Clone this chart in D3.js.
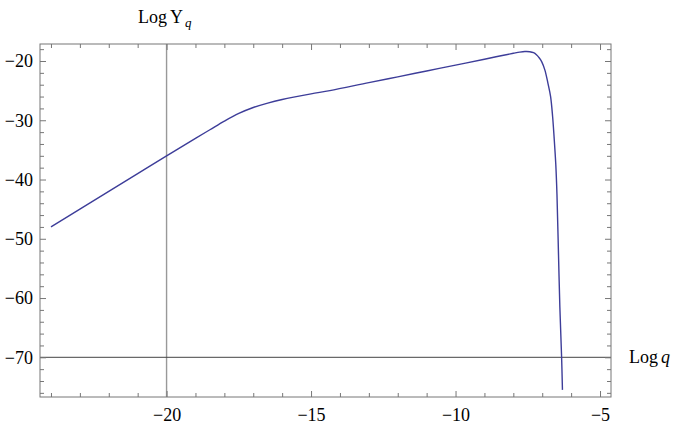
<!DOCTYPE html>
<html>
<head>
<meta charset="utf-8">
<script src="https://cdn.jsdelivr.net/npm/d3@7"></script>
<style>
  html, body { margin: 0; padding: 0; background: #fff; }
  svg { display: block; }
  text { font-family: "Liberation Serif", "DejaVu Serif", serif; }
</style>
</head>
<body>
<svg id="chart" width="674" height="427"></svg>
<script>
(function () {
// ---- data ----
const logQ = [-24.0, -23.0, -22.0, -21.0, -20.0, -19.0, -18.5, -18.0, -17.5, -17.0, -16.5, -16.0, -15.0, -14.35, -13.0, -12.0, -11.0, -10.0, -9.0, -8.47, -8.0, -7.78, -7.6, -7.43, -7.3, -7.2, -7.1, -7.02, -6.91, -6.8, -6.71, -6.64, -6.59, -6.53, -6.49, -6.45, -6.39, -6.33, -6.3];
const logY = [-48.0, -45.0, -42.0, -39.0, -36.0, -33.05, -31.6, -30.15, -28.85, -27.85, -27.1, -26.5, -25.55, -25.0, -23.65, -22.67, -21.68, -20.7, -19.7, -19.15, -18.7, -18.5, -18.4, -18.43, -18.6, -18.95, -19.5, -20.1, -21.5, -23.8, -26.0, -29.4, -32.8, -37.5, -42.5, -50.0, -61.5, -69.9, -75.5];
const xMajorTicks = [-20, -15, -10, -5];
const xTickLabels = ["\u221220", "\u221215", "\u221210", "\u22125"];
const yMajorTicks = [-70, -60, -50, -40, -30, -20];
const yTickLabels = ["\u221270", "\u221260", "\u221250", "\u221240", "\u221230", "\u221220"];
const xMinorTicks = d3.range(-24, -4, 1).filter(v => !xMajorTicks.includes(v));
const yMinorTicks = d3.range(-76, -16, 2).filter(v => !yMajorTicks.includes(v));
const xDomain = [-24.38, -4.62];
const yDomain = [-76.7, -17.13];
const vLineX = -20;
const hLineY = -70;

// ---- layout ----
const svg = d3.select("#chart");
const mL = 40, mR = 611, mT = 44, mB = 397;
const x = d3.scaleLinear().domain(xDomain).range([mL, mR]);
const y = d3.scaleLinear().domain(yDomain).range([mB, mT]);
const frameColor = "#777";
const majorLen = 6, minorLen = 4;
const serif = "'Liberation Serif', 'DejaVu Serif', serif";

// reference lines
svg.append("line")
  .attr("x1", x(vLineX)).attr("x2", x(vLineX))
  .attr("y1", mT).attr("y2", mB)
  .attr("stroke", "#999").attr("stroke-width", 1.4);
svg.append("line")
  .attr("x1", mL).attr("x2", mR)
  .attr("y1", y(hLineY)).attr("y2", y(hLineY))
  .attr("stroke", "#444").attr("stroke-width", 1);

// curve
const pts = logQ.map((q, i) => [q, logY[i]]);
svg.append("path")
  .datum(pts)
  .attr("d", d3.line().x(d => x(d[0])).y(d => y(d[1])).curve(d3.curveCatmullRom.alpha(0.5)))
  .attr("fill", "none")
  .attr("stroke", "#3d3d99")
  .attr("stroke-width", 1.4);

function styleAxis(g) {
  g.attr("font-family", serif).attr("font-size", 18);
  g.select(".domain").remove();
  g.selectAll(".tick line").attr("stroke", frameColor);
  g.selectAll("text").attr("fill", "#000").style("font-family", serif);
  return g;
}

// bottom
styleAxis(svg.append("g").attr("transform", `translate(0,${mB})`)
  .call(d3.axisBottom(x).tickValues(xMajorTicks).tickSize(-majorLen).tickPadding(11)
    .tickFormat((d, i) => xTickLabels[i])));
styleAxis(svg.append("g").attr("transform", `translate(0,${mB})`)
  .call(d3.axisBottom(x).tickValues(xMinorTicks).tickSize(-minorLen).tickFormat("")));
// top
styleAxis(svg.append("g").attr("transform", `translate(0,${mT})`)
  .call(d3.axisTop(x).tickValues(xMajorTicks).tickSize(-majorLen).tickFormat("")));
styleAxis(svg.append("g").attr("transform", `translate(0,${mT})`)
  .call(d3.axisTop(x).tickValues(xMinorTicks).tickSize(-minorLen).tickFormat("")));
// left
styleAxis(svg.append("g").attr("transform", `translate(${mL},0)`)
  .call(d3.axisLeft(y).tickValues(yMajorTicks).tickSize(-majorLen).tickPadding(7)
    .tickFormat((d, i) => yTickLabels[i])));
styleAxis(svg.append("g").attr("transform", `translate(${mL},0)`)
  .call(d3.axisLeft(y).tickValues(yMinorTicks).tickSize(-minorLen).tickFormat("")));
// right
styleAxis(svg.append("g").attr("transform", `translate(${mR},0)`)
  .call(d3.axisRight(y).tickValues(yMajorTicks).tickSize(-majorLen).tickFormat("")));
styleAxis(svg.append("g").attr("transform", `translate(${mR},0)`)
  .call(d3.axisRight(y).tickValues(yMinorTicks).tickSize(-minorLen).tickFormat("")));

// frame
svg.append("rect")
  .attr("x", mL).attr("y", mT)
  .attr("width", mR - mL).attr("height", mB - mT)
  .attr("fill", "none").attr("stroke", frameColor).attr("stroke-width", 1);

// axis labels
const yl = svg.append("text").attr("x", 138).attr("y", 23)
  .attr("font-family", serif).attr("font-size", 18).attr("fill", "#000");
yl.append("tspan").text("Log");
yl.append("tspan").attr("dx", 3).text("\u03A5");
yl.append("tspan").attr("font-style", "italic").attr("font-size", 13).attr("dy", 4).attr("dx", 2).text("q");

const xl = svg.append("text").attr("x", 629).attr("y", 363)
  .attr("font-family", serif).attr("font-size", 18).attr("fill", "#000");
xl.append("tspan").text("Log");
xl.append("tspan").attr("dx", 3).attr("font-style", "italic").text("q");
})();
</script>
</body>
</html>
